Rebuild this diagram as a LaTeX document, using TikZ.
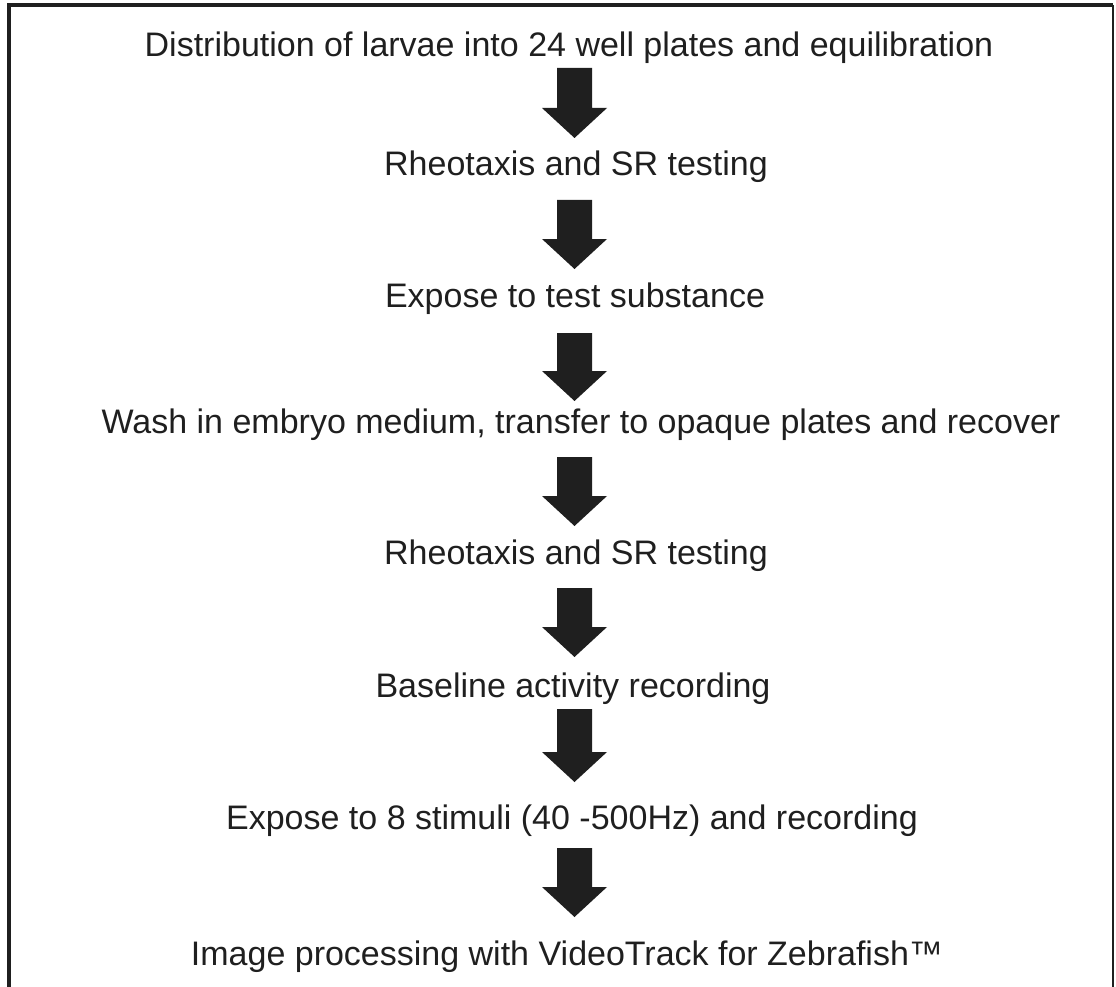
\documentclass[tikz,border=0pt]{standalone}
\usepackage{fontspec}
\setmainfont{Liberation Sans}
\usetikzlibrary{calc}
\definecolor{ink}{HTML}{1F1F1F}
\tikzset{
  steptext/.style={anchor=base, inner sep=0pt, text=ink,
    font=\fontsize{34}{40}\selectfont},
  arrowfill/.style={fill=ink, draw=none},
  % thick block arrow: 35pt shaft, 65pt wide head, 30pt head length
  fatarrow/.style={to path={
    let \p1=(\tikztostart), \p2=(\tikztotarget) in
      (\x1-17.5pt,\y1) -- (\x1+17.5pt,\y1) -- (\x1+17.5pt,\y2+30pt)
      -- (\x1+32.5pt,\y2+30pt) -- (\x1,\y2) -- (\x1-32.5pt,\y2+30pt)
      -- (\x1-17.5pt,\y2+30pt) -- cycle}},
  frame/.style={draw=ink}
}
\begin{document}
\begin{tikzpicture}[x=1pt,y=-1pt]
\useasboundingbox (0,0) rectangle (1116,987);

% outer frame (open at the bottom)
\draw[frame, line width=4pt] (9,987) -- (9,5) -- (1113,5);
\draw[frame, line width=1.5pt] (1113,5) -- (1113,987);

% steps
\node[steptext] (t1) at (569,57)  {Distribution of larvae into 24 well plates and equilibration};
\node[steptext] (t2) at (576,176) {Rheotaxis and SR testing};
\node[steptext] (t3) at (575,307) {Expose to test substance};
\node[steptext] (t4) at (581,433) {Wash in embryo medium, transfer to opaque plates and recover};
\node[steptext] (t5) at (576,564) {Rheotaxis and SR testing};
\node[steptext] (t6) at (573,697) {Baseline activity recording};
\node[steptext] (t7) at (572,829) {Expose to 8 stimuli (40 -500Hz) and recording};
\node[steptext] (t8) at (567,965) {Image processing with VideoTrack for Zebrafish™};

% arrow ends
\coordinate (a1s) at (574.5,68);  \coordinate (a1e) at (574.5,138);
\coordinate (a2s) at (574.5,200); \coordinate (a2e) at (574.5,269);
\coordinate (a3s) at (574.5,333); \coordinate (a3e) at (574.5,401);
\coordinate (a4s) at (574.5,457); \coordinate (a4e) at (574.5,526);
\coordinate (a5s) at (574.5,588); \coordinate (a5e) at (574.5,657);
\coordinate (a6s) at (574.5,709); \coordinate (a6e) at (574.5,782);
\coordinate (a7s) at (574.5,848); \coordinate (a7e) at (574.5,917);

\foreach \i in {1,...,7}
  \path[arrowfill] (a\i s) to[fatarrow] (a\i e);
\end{tikzpicture}
\end{document}
